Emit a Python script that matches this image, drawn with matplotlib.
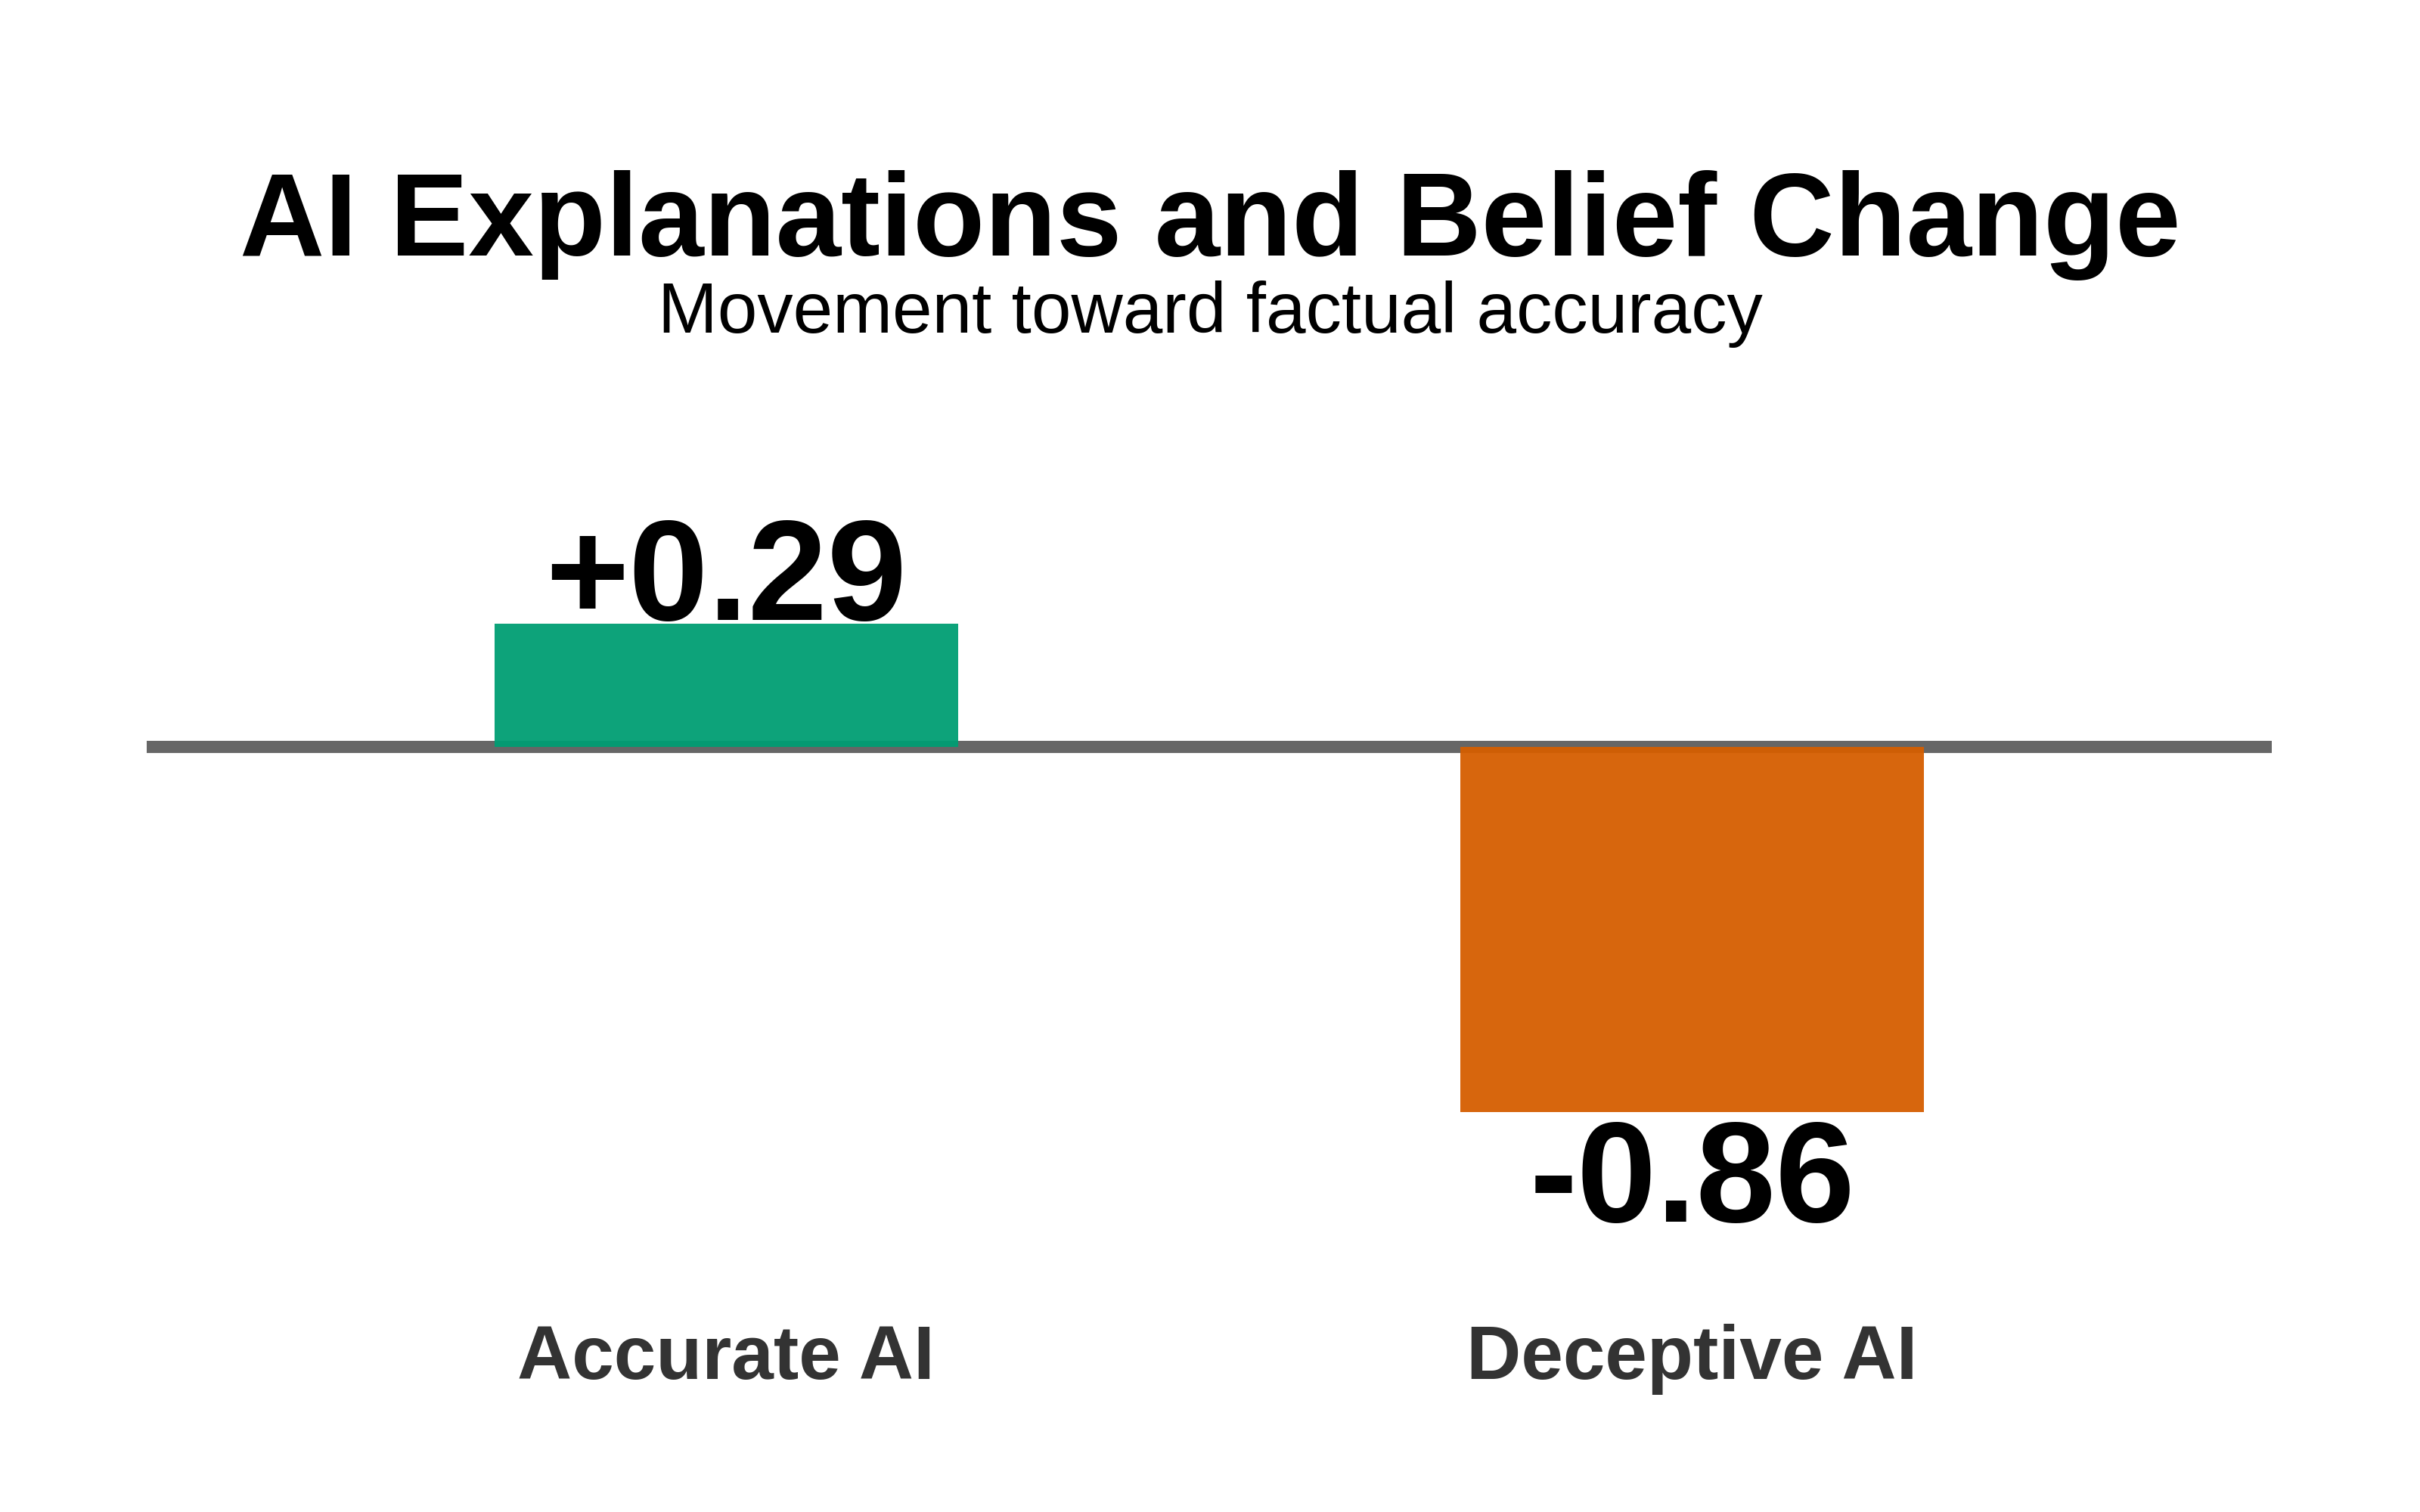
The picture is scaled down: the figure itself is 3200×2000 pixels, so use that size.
import matplotlib
matplotlib.use("Agg")
import matplotlib.pyplot as plt

categories = ["Accurate AI", "Deceptive AI"]
values = [0.29, -0.86]
value_labels = ["+0.29", "-0.86"]
colors = ["#009E73", "#D55E00"]

plt.rcParams['font.family'] = ['Liberation Sans', 'DejaVu Sans']

W, H = 3200, 2000
fig = plt.figure(figsize=(16, 10), dpi=200)
# axes: x from 194 to 3004 px; y from 651 to 1662 px
ylo, yhi = -1.2, 0.6
top_px, bot_px = 651, 1662
ax = fig.add_axes([194 / W, 1 - bot_px / H, (3004 - 194) / W, (bot_px - top_px) / H])
x = list(range(len(categories)))
bars = ax.bar(x, values, width=0.48, color=colors, alpha=0.95, zorder=3)
ax.axhline(0, color="#666666", linewidth=5.8, zorder=2)
ax.set_xlim(-0.6, 1.6)
ax.set_ylim(ylo, yhi)
for s in ax.spines.values():
    s.set_visible(False)
ax.set_yticks([])
ax.set_xticks(x)
ax.set_xticklabels(categories, fontsize=36, fontweight="bold", color="#333333")
ax.tick_params(axis="x", length=0, pad=32)

for xi, v, lab in zip(x, values, value_labels):
    if v >= 0:
        ax.annotate(lab, (xi, v), xytext=(0, 2), textcoords="offset points",
                    ha="center", va="baseline", fontsize=68, fontweight="bold", color="black", zorder=4)
    else:
        ax.annotate(lab, (xi, v), xytext=(0, -3), textcoords="offset points",
                    ha="center", va="top", fontsize=68, fontweight="bold", color="black", zorder=4)

fig.text(0.5, 1 - 338 / H, "AI Explanations and Belief Change", ha="center", va="baseline",
         fontsize=56, fontweight="bold", color="black")
fig.text(0.5, 1 - 440 / H, "Movement toward factual accuracy", ha="center", va="baseline",
         fontsize=34, color="black")

fig.savefig("out.png", dpi=200, facecolor="white")
